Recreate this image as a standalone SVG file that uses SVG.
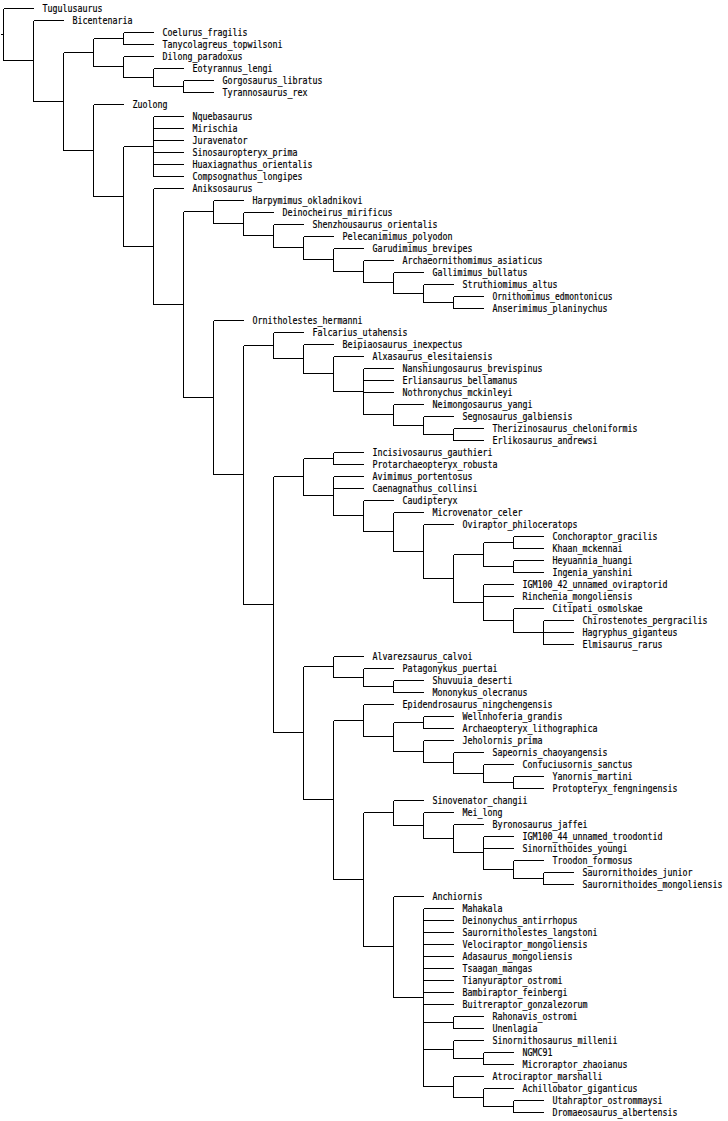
<svg xmlns="http://www.w3.org/2000/svg" width="728" height="1121" viewBox="0 0 728 1121">
<style>
.e{fill:none;stroke:#000;stroke-width:1;shape-rendering:crispEdges}
text{font-family:"DejaVu Sans Mono","Liberation Mono",monospace;font-size:11px;fill:#000;stroke:#000;stroke-width:0.2}
</style>
<rect width="728" height="1121" fill="#fff"/>
<g id="connectors" class="e" transform="translate(0.5 0.5)">
<path d="M0 34h3M3 8V60M3 8h30M3 60h30"/>
<path d="M33 20V101M33 20h30M33 101h30"/>
<path d="M63 52V150M63 52h30M63 150h30"/>
<path d="M93 38V66M93 38h30M93 66h30"/>
<path d="M123 32V44M123 32h30M123 44h30"/>
<path d="M123 56V77M123 56h30M123 77h30"/>
<path d="M153 68V86M153 68h30M153 86h30"/>
<path d="M183 80V92M183 80h30M183 92h30"/>
<path d="M93 104V196M93 104h30M93 196h30"/>
<path d="M123 146V246M123 146h30M123 246h30"/>
<path d="M153 116V176M153 116h30M153 128h30M153 140h30M153 152h30M153 164h30M153 176h30"/>
<path d="M153 188V304M153 188h30M153 304h30"/>
<path d="M183 211V397M183 211h30M183 397h30"/>
<path d="M213 200V223M213 200h30M213 223h30"/>
<path d="M243 212V235M243 212h30M243 235h30"/>
<path d="M273 224V247M273 224h30M273 247h30"/>
<path d="M303 236V259M303 236h30M303 259h30"/>
<path d="M333 248V271M333 248h30M333 271h30"/>
<path d="M363 260V282M363 260h30M363 282h30"/>
<path d="M393 272V293M393 272h30M393 293h30"/>
<path d="M423 284V302M423 284h30M423 302h30"/>
<path d="M453 296V308M453 296h30M453 308h30"/>
<path d="M213 320V474M213 320h30M213 474h30"/>
<path d="M243 345V604M243 345h30M243 604h30"/>
<path d="M273 332V358M273 332h30M273 358h30"/>
<path d="M303 344V373M303 344h30M303 373h30"/>
<path d="M333 356V391M333 356h30M333 391h30"/>
<path d="M363 368V414M363 368h30M363 380h30M363 392h30M363 414h30"/>
<path d="M393 404V425M393 404h30M393 425h30"/>
<path d="M423 416V434M423 416h30M423 434h30"/>
<path d="M453 428V440M453 428h30M453 440h30"/>
<path d="M273 476V732M273 476h30M273 732h30"/>
<path d="M303 458V495M303 458h30M303 495h30"/>
<path d="M333 452V464M333 452h30M333 464h30"/>
<path d="M333 476V515M333 476h30M333 488h30M333 515h30"/>
<path d="M363 500V531M363 500h30M363 531h30"/>
<path d="M393 512V551M393 512h30M393 551h30"/>
<path d="M423 524V578M423 524h30M423 578h30"/>
<path d="M453 554V602M453 554h30M453 602h30"/>
<path d="M483 542V566M483 542h30M483 566h30"/>
<path d="M513 536V548M513 536h30M513 548h30"/>
<path d="M513 560V572M513 560h30M513 572h30"/>
<path d="M483 584V620M483 584h30M483 596h30M483 620h30"/>
<path d="M513 608V632M513 608h30M513 632h30"/>
<path d="M543 620V644M543 620h30M543 632h30M543 644h30"/>
<path d="M303 666V799M303 666h30M303 799h30"/>
<path d="M333 656V677M333 656h30M333 677h30"/>
<path d="M363 668V686M363 668h30M363 686h30"/>
<path d="M393 680V692M393 680h30M393 692h30"/>
<path d="M333 720V879M333 720h30M333 879h30"/>
<path d="M363 704V736M363 704h30M363 736h30"/>
<path d="M393 722V751M393 722h30M393 751h30"/>
<path d="M423 716V728M423 716h30M423 728h30"/>
<path d="M423 740V762M423 740h30M423 762h30"/>
<path d="M453 752V773M453 752h30M453 773h30"/>
<path d="M483 764V782M483 764h30M483 782h30"/>
<path d="M513 776V788M513 776h30M513 788h30"/>
<path d="M363 812V946M363 812h30M363 946h30"/>
<path d="M393 800V825M393 800h30M393 825h30"/>
<path d="M423 812V838M423 812h30M423 838h30"/>
<path d="M453 824V852M453 824h30M453 852h30"/>
<path d="M483 836V869M483 836h30M483 848h30M483 869h30"/>
<path d="M513 860V878M513 860h30M513 878h30"/>
<path d="M543 872V884M543 872h30M543 884h30"/>
<path d="M393 896V997M393 896h30M393 997h30"/>
<path d="M423 908V1086M423 908h30M423 920h30M423 932h30M423 944h30M423 956h30M423 968h30M423 980h30M423 992h30M423 1004h30M423 1022h30M423 1049h30M423 1086h30"/>
<path d="M453 1016V1028M453 1016h30M453 1028h30"/>
<path d="M453 1040V1058M453 1040h30M453 1058h30"/>
<path d="M483 1052V1064M483 1052h30M483 1064h30"/>
<path d="M453 1076V1097M453 1076h30M453 1097h30"/>
<path d="M483 1088V1106M483 1088h30M483 1106h30"/>
<path d="M513 1100V1112M513 1100h30M513 1112h30"/>
</g>
<g id="Tugulusaurus"><text x="42.5" y="12" textLength="60" lengthAdjust="spacingAndGlyphs">Tugulusaurus</text></g>
<g id="Bicentenaria"><text x="72.5" y="24" textLength="60" lengthAdjust="spacingAndGlyphs">Bicentenaria</text></g>
<g id="Coelurus_fragilis"><text x="162.5" y="36" textLength="85" lengthAdjust="spacingAndGlyphs">Coelurus_fragilis</text></g>
<g id="Tanycolagreus_topwilsoni"><text x="162.5" y="48" textLength="120" lengthAdjust="spacingAndGlyphs">Tanycolagreus_topwilsoni</text></g>
<g id="Dilong_paradoxus"><text x="162.5" y="60" textLength="80" lengthAdjust="spacingAndGlyphs">Dilong_paradoxus</text></g>
<g id="Eotyrannus_lengi"><text x="192.5" y="72" textLength="80" lengthAdjust="spacingAndGlyphs">Eotyrannus_lengi</text></g>
<g id="Gorgosaurus_libratus"><text x="222.5" y="84" textLength="100" lengthAdjust="spacingAndGlyphs">Gorgosaurus_libratus</text></g>
<g id="Tyrannosaurus_rex"><text x="222.5" y="96" textLength="85" lengthAdjust="spacingAndGlyphs">Tyrannosaurus_rex</text></g>
<g id="Zuolong"><text x="132.5" y="108" textLength="35" lengthAdjust="spacingAndGlyphs">Zuolong</text></g>
<g id="Nquebasaurus"><text x="192.5" y="120" textLength="60" lengthAdjust="spacingAndGlyphs">Nquebasaurus</text></g>
<g id="Mirischia"><text x="192.5" y="132" textLength="45" lengthAdjust="spacingAndGlyphs">Mirischia</text></g>
<g id="Juravenator"><text x="192.5" y="144" textLength="55" lengthAdjust="spacingAndGlyphs">Juravenator</text></g>
<g id="Sinosauropteryx_prima"><text x="192.5" y="156" textLength="105" lengthAdjust="spacingAndGlyphs">Sinosauropteryx_prima</text></g>
<g id="Huaxiagnathus_orientalis"><text x="192.5" y="168" textLength="120" lengthAdjust="spacingAndGlyphs">Huaxiagnathus_orientalis</text></g>
<g id="Compsognathus_longipes"><text x="192.5" y="180" textLength="110" lengthAdjust="spacingAndGlyphs">Compsognathus_longipes</text></g>
<g id="Aniksosaurus"><text x="192.5" y="192" textLength="60" lengthAdjust="spacingAndGlyphs">Aniksosaurus</text></g>
<g id="Harpymimus_okladnikovi"><text x="252.5" y="204" textLength="110" lengthAdjust="spacingAndGlyphs">Harpymimus_okladnikovi</text></g>
<g id="Deinocheirus_mirificus"><text x="282.5" y="216" textLength="110" lengthAdjust="spacingAndGlyphs">Deinocheirus_mirificus</text></g>
<g id="Shenzhousaurus_orientalis"><text x="312.5" y="228" textLength="125" lengthAdjust="spacingAndGlyphs">Shenzhousaurus_orientalis</text></g>
<g id="Pelecanimimus_polyodon"><text x="342.5" y="240" textLength="110" lengthAdjust="spacingAndGlyphs">Pelecanimimus_polyodon</text></g>
<g id="Garudimimus_brevipes"><text x="372.5" y="252" textLength="100" lengthAdjust="spacingAndGlyphs">Garudimimus_brevipes</text></g>
<g id="Archaeornithomimus_asiaticus"><text x="402.5" y="264" textLength="140" lengthAdjust="spacingAndGlyphs">Archaeornithomimus_asiaticus</text></g>
<g id="Gallimimus_bullatus"><text x="432.5" y="276" textLength="95" lengthAdjust="spacingAndGlyphs">Gallimimus_bullatus</text></g>
<g id="Struthiomimus_altus"><text x="462.5" y="288" textLength="95" lengthAdjust="spacingAndGlyphs">Struthiomimus_altus</text></g>
<g id="Ornithomimus_edmontonicus"><text x="492.5" y="300" textLength="120" lengthAdjust="spacingAndGlyphs">Ornithomimus_edmontonicus</text></g>
<g id="Anserimimus_planinychus"><text x="492.5" y="312" textLength="115" lengthAdjust="spacingAndGlyphs">Anserimimus_planinychus</text></g>
<g id="Ornitholestes_hermanni"><text x="252.5" y="324" textLength="110" lengthAdjust="spacingAndGlyphs">Ornitholestes_hermanni</text></g>
<g id="Falcarius_utahensis"><text x="312.5" y="336" textLength="95" lengthAdjust="spacingAndGlyphs">Falcarius_utahensis</text></g>
<g id="Beipiaosaurus_inexpectus"><text x="342.5" y="348" textLength="120" lengthAdjust="spacingAndGlyphs">Beipiaosaurus_inexpectus</text></g>
<g id="Alxasaurus_elesitaiensis"><text x="372.5" y="360" textLength="120" lengthAdjust="spacingAndGlyphs">Alxasaurus_elesitaiensis</text></g>
<g id="Nanshiungosaurus_brevispinus"><text x="402.5" y="372" textLength="140" lengthAdjust="spacingAndGlyphs">Nanshiungosaurus_brevispinus</text></g>
<g id="Erliansaurus_bellamanus"><text x="402.5" y="384" textLength="115" lengthAdjust="spacingAndGlyphs">Erliansaurus_bellamanus</text></g>
<g id="Nothronychus_mckinleyi"><text x="402.5" y="396" textLength="110" lengthAdjust="spacingAndGlyphs">Nothronychus_mckinleyi</text></g>
<g id="Neimongosaurus_yangi"><text x="432.5" y="408" textLength="100" lengthAdjust="spacingAndGlyphs">Neimongosaurus_yangi</text></g>
<g id="Segnosaurus_galbiensis"><text x="462.5" y="420" textLength="110" lengthAdjust="spacingAndGlyphs">Segnosaurus_galbiensis</text></g>
<g id="Therizinosaurus_cheloniformis"><text x="492.5" y="432" textLength="145" lengthAdjust="spacingAndGlyphs">Therizinosaurus_cheloniformis</text></g>
<g id="Erlikosaurus_andrewsi"><text x="492.5" y="444" textLength="105" lengthAdjust="spacingAndGlyphs">Erlikosaurus_andrewsi</text></g>
<g id="Incisivosaurus_gauthieri"><text x="372.5" y="456" textLength="120" lengthAdjust="spacingAndGlyphs">Incisivosaurus_gauthieri</text></g>
<g id="Protarchaeopteryx_robusta"><text x="372.5" y="468" textLength="125" lengthAdjust="spacingAndGlyphs">Protarchaeopteryx_robusta</text></g>
<g id="Avimimus_portentosus"><text x="372.5" y="480" textLength="100" lengthAdjust="spacingAndGlyphs">Avimimus_portentosus</text></g>
<g id="Caenagnathus_collinsi"><text x="372.5" y="492" textLength="105" lengthAdjust="spacingAndGlyphs">Caenagnathus_collinsi</text></g>
<g id="Caudipteryx"><text x="402.5" y="504" textLength="55" lengthAdjust="spacingAndGlyphs">Caudipteryx</text></g>
<g id="Microvenator_celer"><text x="432.5" y="516" textLength="90" lengthAdjust="spacingAndGlyphs">Microvenator_celer</text></g>
<g id="Oviraptor_philoceratops"><text x="462.5" y="528" textLength="115" lengthAdjust="spacingAndGlyphs">Oviraptor_philoceratops</text></g>
<g id="Conchoraptor_gracilis"><text x="552.5" y="540" textLength="105" lengthAdjust="spacingAndGlyphs">Conchoraptor_gracilis</text></g>
<g id="Khaan_mckennai"><text x="552.5" y="552" textLength="70" lengthAdjust="spacingAndGlyphs">Khaan_mckennai</text></g>
<g id="Heyuannia_huangi"><text x="552.5" y="564" textLength="80" lengthAdjust="spacingAndGlyphs">Heyuannia_huangi</text></g>
<g id="Ingenia_yanshini"><text x="552.5" y="576" textLength="80" lengthAdjust="spacingAndGlyphs">Ingenia_yanshini</text></g>
<g id="IGM100_42_unnamed_oviraptorid"><text x="522.5" y="588" textLength="145" lengthAdjust="spacingAndGlyphs">IGM100_42_unnamed_oviraptorid</text></g>
<g id="Rinchenia_mongoliensis"><text x="522.5" y="600" textLength="110" lengthAdjust="spacingAndGlyphs">Rinchenia_mongoliensis</text></g>
<g id="Citipati_osmolskae"><text x="552.5" y="612" textLength="90" lengthAdjust="spacingAndGlyphs">Citipati_osmolskae</text></g>
<g id="Chirostenotes_pergracilis"><text x="582.5" y="624" textLength="125" lengthAdjust="spacingAndGlyphs">Chirostenotes_pergracilis</text></g>
<g id="Hagryphus_giganteus"><text x="582.5" y="636" textLength="95" lengthAdjust="spacingAndGlyphs">Hagryphus_giganteus</text></g>
<g id="Elmisaurus_rarus"><text x="582.5" y="648" textLength="80" lengthAdjust="spacingAndGlyphs">Elmisaurus_rarus</text></g>
<g id="Alvarezsaurus_calvoi"><text x="372.5" y="660" textLength="100" lengthAdjust="spacingAndGlyphs">Alvarezsaurus_calvoi</text></g>
<g id="Patagonykus_puertai"><text x="402.5" y="672" textLength="95" lengthAdjust="spacingAndGlyphs">Patagonykus_puertai</text></g>
<g id="Shuvuuia_deserti"><text x="432.5" y="684" textLength="80" lengthAdjust="spacingAndGlyphs">Shuvuuia_deserti</text></g>
<g id="Mononykus_olecranus"><text x="432.5" y="696" textLength="95" lengthAdjust="spacingAndGlyphs">Mononykus_olecranus</text></g>
<g id="Epidendrosaurus_ningchengensis"><text x="402.5" y="708" textLength="150" lengthAdjust="spacingAndGlyphs">Epidendrosaurus_ningchengensis</text></g>
<g id="Wellnhoferia_grandis"><text x="462.5" y="720" textLength="100" lengthAdjust="spacingAndGlyphs">Wellnhoferia_grandis</text></g>
<g id="Archaeopteryx_lithographica"><text x="462.5" y="732" textLength="135" lengthAdjust="spacingAndGlyphs">Archaeopteryx_lithographica</text></g>
<g id="Jeholornis_prima"><text x="462.5" y="744" textLength="80" lengthAdjust="spacingAndGlyphs">Jeholornis_prima</text></g>
<g id="Sapeornis_chaoyangensis"><text x="492.5" y="756" textLength="115" lengthAdjust="spacingAndGlyphs">Sapeornis_chaoyangensis</text></g>
<g id="Confuciusornis_sanctus"><text x="522.5" y="768" textLength="110" lengthAdjust="spacingAndGlyphs">Confuciusornis_sanctus</text></g>
<g id="Yanornis_martini"><text x="552.5" y="780" textLength="80" lengthAdjust="spacingAndGlyphs">Yanornis_martini</text></g>
<g id="Protopteryx_fengningensis"><text x="552.5" y="792" textLength="125" lengthAdjust="spacingAndGlyphs">Protopteryx_fengningensis</text></g>
<g id="Sinovenator_changii"><text x="432.5" y="804" textLength="95" lengthAdjust="spacingAndGlyphs">Sinovenator_changii</text></g>
<g id="Mei_long"><text x="462.5" y="816" textLength="40" lengthAdjust="spacingAndGlyphs">Mei_long</text></g>
<g id="Byronosaurus_jaffei"><text x="492.5" y="828" textLength="95" lengthAdjust="spacingAndGlyphs">Byronosaurus_jaffei</text></g>
<g id="IGM100_44_unnamed_troodontid"><text x="522.5" y="840" textLength="140" lengthAdjust="spacingAndGlyphs">IGM100_44_unnamed_troodontid</text></g>
<g id="Sinornithoides_youngi"><text x="522.5" y="852" textLength="105" lengthAdjust="spacingAndGlyphs">Sinornithoides_youngi</text></g>
<g id="Troodon_formosus"><text x="552.5" y="864" textLength="80" lengthAdjust="spacingAndGlyphs">Troodon_formosus</text></g>
<g id="Saurornithoides_junior"><text x="582.5" y="876" textLength="110" lengthAdjust="spacingAndGlyphs">Saurornithoides_junior</text></g>
<g id="Saurornithoides_mongoliensis"><text x="582.5" y="888" textLength="140" lengthAdjust="spacingAndGlyphs">Saurornithoides_mongoliensis</text></g>
<g id="Anchiornis"><text x="432.5" y="900" textLength="50" lengthAdjust="spacingAndGlyphs">Anchiornis</text></g>
<g id="Mahakala"><text x="462.5" y="912" textLength="40" lengthAdjust="spacingAndGlyphs">Mahakala</text></g>
<g id="Deinonychus_antirrhopus"><text x="462.5" y="924" textLength="115" lengthAdjust="spacingAndGlyphs">Deinonychus_antirrhopus</text></g>
<g id="Saurornitholestes_langstoni"><text x="462.5" y="936" textLength="135" lengthAdjust="spacingAndGlyphs">Saurornitholestes_langstoni</text></g>
<g id="Velociraptor_mongoliensis"><text x="462.5" y="948" textLength="125" lengthAdjust="spacingAndGlyphs">Velociraptor_mongoliensis</text></g>
<g id="Adasaurus_mongoliensis"><text x="462.5" y="960" textLength="110" lengthAdjust="spacingAndGlyphs">Adasaurus_mongoliensis</text></g>
<g id="Tsaagan_mangas"><text x="462.5" y="972" textLength="70" lengthAdjust="spacingAndGlyphs">Tsaagan_mangas</text></g>
<g id="Tianyuraptor_ostromi"><text x="462.5" y="984" textLength="100" lengthAdjust="spacingAndGlyphs">Tianyuraptor_ostromi</text></g>
<g id="Bambiraptor_feinbergi"><text x="462.5" y="996" textLength="105" lengthAdjust="spacingAndGlyphs">Bambiraptor_feinbergi</text></g>
<g id="Buitreraptor_gonzalezorum"><text x="462.5" y="1008" textLength="125" lengthAdjust="spacingAndGlyphs">Buitreraptor_gonzalezorum</text></g>
<g id="Rahonavis_ostromi"><text x="492.5" y="1020" textLength="85" lengthAdjust="spacingAndGlyphs">Rahonavis_ostromi</text></g>
<g id="Unenlagia"><text x="492.5" y="1032" textLength="45" lengthAdjust="spacingAndGlyphs">Unenlagia</text></g>
<g id="Sinornithosaurus_millenii"><text x="492.5" y="1044" textLength="125" lengthAdjust="spacingAndGlyphs">Sinornithosaurus_millenii</text></g>
<g id="NGMC91"><text x="522.5" y="1056" textLength="30" lengthAdjust="spacingAndGlyphs">NGMC91</text></g>
<g id="Microraptor_zhaoianus"><text x="522.5" y="1068" textLength="105" lengthAdjust="spacingAndGlyphs">Microraptor_zhaoianus</text></g>
<g id="Atrociraptor_marshalli"><text x="492.5" y="1080" textLength="110" lengthAdjust="spacingAndGlyphs">Atrociraptor_marshalli</text></g>
<g id="Achillobator_giganticus"><text x="522.5" y="1092" textLength="115" lengthAdjust="spacingAndGlyphs">Achillobator_giganticus</text></g>
<g id="Utahraptor_ostrommaysi"><text x="552.5" y="1104" textLength="110" lengthAdjust="spacingAndGlyphs">Utahraptor_ostrommaysi</text></g>
<g id="Dromaeosaurus_albertensis"><text x="552.5" y="1116" textLength="125" lengthAdjust="spacingAndGlyphs">Dromaeosaurus_albertensis</text></g>
</svg>
